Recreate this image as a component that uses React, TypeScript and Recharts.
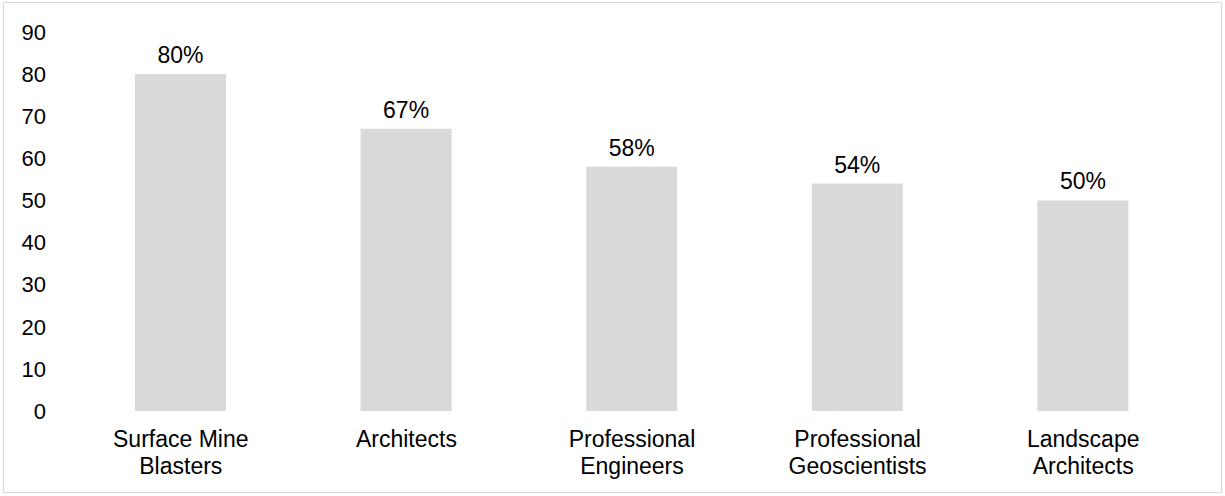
import { Bar, BarChart, LabelList, XAxis, YAxis } from 'recharts'

const categories = [
  'Surface Mine\nBlasters',
  'Architects',
  'Professional\nEngineers',
  'Professional\nGeoscientists',
  'Landscape\nArchitects',
]
const shares = [80, 67, 58, 54, 50]
const yTicks = [0, 10, 20, 30, 40, 50, 60, 70, 80, 90]

const data = categories.map((name, i) => ({ name, value: shares[i] }))

const FONT = '"Liberation Sans", Arial, sans-serif'

function CategoryTick(props: any) {
  const { x, y, payload } = props
  const lines = String(payload.value).split('\n')
  return (
    <text x={x} y={y} textAnchor="middle" fill="#000" fontSize={23} fontFamily={FONT}>
      {lines.map((line, i) => (
        <tspan key={i} x={x} dy={i === 0 ? 36 : 27}>
          {line}
        </tspan>
      ))}
    </text>
  )
}

export default function App() {
  return (
    <div style={{ position: 'absolute', left: 0, top: 0, width: 1225, height: 496, background: '#fff' }}>
      <div
        style={{
          position: 'absolute',
          left: 3,
          top: 2,
          width: 1217,
          height: 489,
          border: '1px solid #D9D9D9',
        }}
      />
      <div style={{ position: 'absolute', left: 0, top: 0 }}>
        <BarChart width={1225} height={496} data={data} margin={{ top: 32, right: 29, left: 0, bottom: 55 }}>
          <XAxis
            dataKey="name"
            axisLine={false}
            tickLine={false}
            tickSize={0}
            tickMargin={0}
            interval={0}
            tick={<CategoryTick />}
          />
          <YAxis
            width={68}
            domain={[0, 90]}
            ticks={yTicks}
            interval={0}
            axisLine={false}
            tickLine={false}
            tickSize={0}
            tickMargin={22}
            tick={{ fontSize: 22, fill: '#000', fontFamily: FONT }}
          />
          <Bar dataKey="value" fill="#D9D9D9" barSize={91} isAnimationActive={false}>
            <LabelList
              dataKey="value"
              position="top"
              offset={11}
              formatter={(v: any) => `${v}%`}
              style={{ fontSize: 23, fill: '#000', fontFamily: FONT }}
            />
          </Bar>
        </BarChart>
      </div>
    </div>
  )
}
